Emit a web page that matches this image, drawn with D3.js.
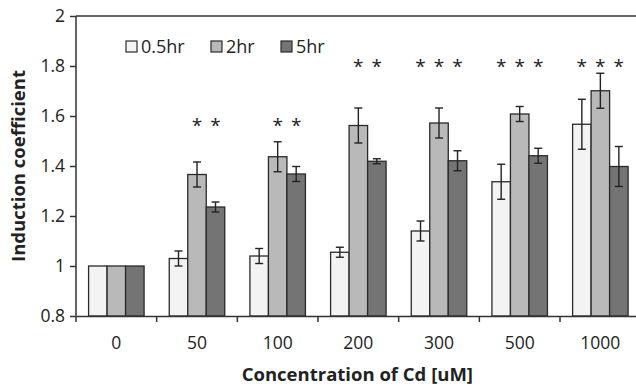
<!DOCTYPE html>
<html>
<head>
<meta charset="utf-8">
<script src="https://cdn.jsdelivr.net/npm/d3@7"></script>
<style>
  body { margin: 0; background: #fff; }
  svg text { font-family: "Open Sans", "Noto Sans", sans-serif; fill: #222; }
</style>
</head>
<body>
<div id="chart"></div>
<script>
// concentrations of Cd (uM)
const categories = ['0', '50', '100', '200', '300', '500', '1000'];
const series = ['0.5hr', '2hr', '5hr'];
const colors = ['#f3f3f3', '#b9b9b9', '#747474'];

// induction coefficient, one array per exposure time
const mean05 = [1, 1.03, 1.04, 1.055, 1.14, 1.337, 1.567];
const mean2 = [1, 1.366, 1.437, 1.562, 1.572, 1.608, 1.701];
const mean5 = [1, 1.236, 1.368, 1.419, 1.421, 1.441, 1.398];

// error bars (+/-)
const err05 = [0, 0.03, 0.03, 0.02, 0.04, 0.07, 0.10];
const err2 = [0, 0.05, 0.06, 0.07, 0.06, 0.03, 0.07];
const err5 = [0, 0.02, 0.03, 0.01, 0.04, 0.03, 0.08];

// significance marks: which bars get a star, and the height they sit at
const sig05 = [0, 0, 0, 0, 1, 1, 1];
const sig2 = [0, 1, 1, 1, 1, 1, 1];
const sig5 = [0, 1, 1, 1, 1, 1, 1];
const sigLevel = [null, 1.576, 1.576, 1.812, 1.812, 1.812, 1.812];

const yTicks = [0.8, 1, 1.2, 1.4, 1.6, 1.8, 2];

const means = [mean05, mean2, mean5];
const errs = [err05, err2, err5];
const sigs = [sig05, sig2, sig5];

const W = 636, H = 387;
const margin = { top: 16, left: 76 };
const plotH = 300;
const step = 80.67;
const plotW = step * categories.length;

const svg = d3.select('#chart').append('svg')
    .attr('width', W)
    .attr('height', H);

const x = d3.scaleBand().domain(categories).range([margin.left, margin.left + plotW]);
const xs = d3.scaleBand().domain(series).range([0, x.bandwidth()]).paddingOuter(0.68);
const y = d3.scaleLinear().domain([0.8, 2]).range([margin.top + plotH, margin.top]);

// build flat list of bars
let bars = [];
categories.forEach((c, i) => {
    series.forEach((s, j) => {
        bars.push({ cat: c, s: s, j: j, v: means[j][i], e: errs[j][i], sig: sigs[j][i], lvl: sigLevel[i] });
    });
});

// top frame line
svg.append('line')
    .attr('x1', margin.left).attr('x2', margin.left + plotW)
    .attr('y1', y(2)).attr('y2', y(2))
    .attr('stroke', '#333').attr('stroke-width', 1.5);

// bars
svg.selectAll('rect.bar')
    .data(bars)
    .enter().append('rect')
    .attr('class', 'bar')
    .attr('x', d => x(d.cat) + xs(d.s))
    .attr('width', xs.bandwidth())
    .attr('y', d => y(d.v))
    .attr('height', d => y(0.8) - y(d.v))
    .attr('fill', d => colors[d.j])
    .attr('stroke', '#2a2a2a')
    .attr('stroke-width', 1.3);

// error bars
const eb = svg.selectAll('g.err')
    .data(bars.filter(d => d.e > 0))
    .enter().append('g')
    .attr('class', 'err')
    .attr('stroke', '#222')
    .attr('stroke-width', 1.4);

eb.append('line')
    .attr('x1', d => x(d.cat) + xs(d.s) + xs.bandwidth() / 2)
    .attr('x2', d => x(d.cat) + xs(d.s) + xs.bandwidth() / 2)
    .attr('y1', d => y(d.v + d.e))
    .attr('y2', d => y(d.v - d.e));

[1, -1].forEach(sign => {
    eb.append('line')
        .attr('x1', d => x(d.cat) + xs(d.s) + xs.bandwidth() / 2 - 4)
        .attr('x2', d => x(d.cat) + xs(d.s) + xs.bandwidth() / 2 + 4)
        .attr('y1', d => y(d.v + sign * d.e))
        .attr('y2', d => y(d.v + sign * d.e));
});

// significance stars
svg.selectAll('text.star')
    .data(bars.filter(d => d.sig))
    .enter().append('text')
    .attr('class', 'star')
    .attr('x', d => x(d.cat) + xs(d.s) + xs.bandwidth() / 2)
    .attr('y', d => y(d.lvl) + 10)
    .attr('text-anchor', 'middle')
    .attr('font-size', 19)
    .text('*');

// y axis
const yAxis = svg.append('g')
    .attr('transform', `translate(${margin.left},0)`)
    .call(d3.axisLeft(y).tickValues(yTicks).tickSize(6).tickPadding(5)
        .tickFormat(d => String(+d.toFixed(1))));
yAxis.selectAll('path, line').attr('stroke', '#333').attr('stroke-width', 1.5);
yAxis.select('path').attr('d', `M0,${y(0.8)}V${y(2)}`);
yAxis.selectAll('text').attr('font-size', 17.5).attr('fill', '#222');

// x axis: labels centred, ticks at category boundaries
const xAxis = svg.append('g')
    .attr('transform', `translate(0,${y(0.8)})`)
    .call(d3.axisBottom(x).tickSize(0).tickSizeOuter(0).tickPadding(21));
xAxis.select('path').attr('stroke', '#333').attr('stroke-width', 1.5);
xAxis.selectAll('text').attr('font-size', 17.5).attr('fill', '#222');

svg.selectAll('line.xtick')
    .data(categories)
    .enter().append('line')
    .attr('class', 'xtick')
    .attr('x1', d => x(d)).attr('x2', d => x(d))
    .attr('y1', y(0.8)).attr('y2', y(0.8) + 6)
    .attr('stroke', '#333').attr('stroke-width', 1.5);

// axis titles
svg.append('text')
    .attr('x', margin.left + plotW / 2 - 1)
    .attr('y', 381)
    .attr('text-anchor', 'middle')
    .attr('font-size', 18.5)
    .attr('font-weight', 'bold')
    .text('Concentration of Cd [uM]');

svg.append('text')
    .attr('transform', `translate(25,${margin.top + plotH / 2}) rotate(-90)`)
    .attr('text-anchor', 'middle')
    .attr('font-size', 18.5)
    .attr('font-weight', 'bold')
    .text('Induction coefficient');

// legend
const legendX = [126, 211, 281];
const legend = svg.selectAll('g.legend')
    .data(series)
    .enter().append('g')
    .attr('class', 'legend')
    .attr('transform', (d, i) => `translate(${legendX[i]},41)`);

legend.append('rect')
    .attr('width', 11).attr('height', 11)
    .attr('fill', (d, i) => colors[i])
    .attr('stroke', '#2a2a2a').attr('stroke-width', 1.2);

legend.append('text')
    .attr('x', 15).attr('y', 12)
    .attr('font-size', 18)
    .text(d => d);
</script>
</body>
</html>
